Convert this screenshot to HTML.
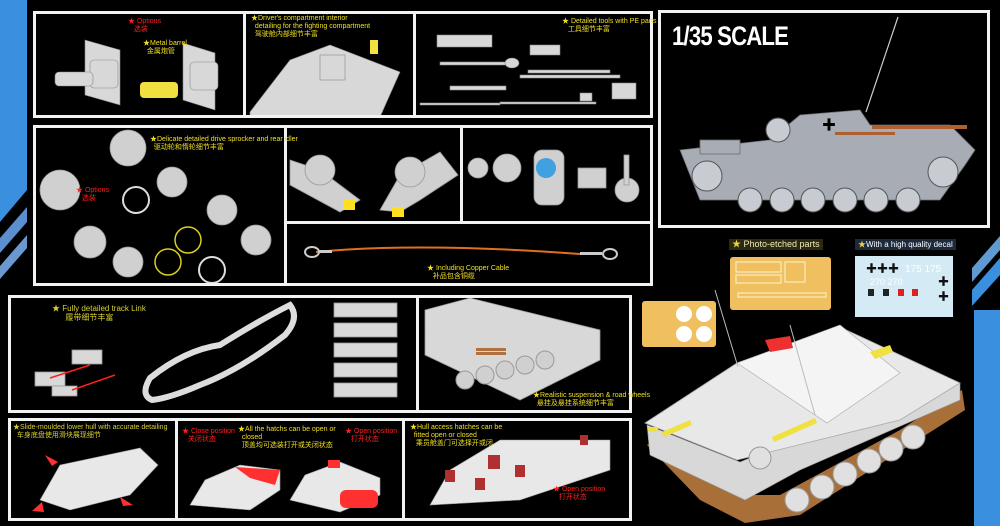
<!DOCTYPE html>
<html><head><meta charset="utf-8"><style>
body{margin:0;width:1000px;height:526px;background:#000;overflow:hidden;position:relative;font-family:"Liberation Sans","Noto Sans CJK SC",sans-serif}
.p{position:absolute;border:3px solid #f2f2f2;box-sizing:border-box}
.t{position:absolute;font-size:7px;line-height:8px;color:#f0e020;white-space:nowrap}
.r{color:#ff2020}
svg{position:absolute;left:0;top:0}
</style></head><body>
<svg width="1000" height="526">
<!-- blue side bars -->
<polygon points="0,0 27,0 27,190 0,222" fill="#3a8fde"/>
<polygon points="0,238 27,207 27,222 0,253" fill="#5b8fd0"/>
<polygon points="0,266 27,235 27,248 0,279" fill="#6a98d0"/>
<rect x="974" y="310" width="26" height="216" fill="#3a8fde"/>
<polygon points="972,290 1000,258 1000,275 972,306" fill="#3a8fde"/>
<polygon points="972,268 1000,236 1000,250 972,282" fill="#5f9ad0"/>
<!-- Row1 content -->
<g fill="#d8d8d8" stroke="#888" stroke-width=".6">
<polygon points="85,40 120,50 120,105 85,95"/><polygon points="183,43 215,53 215,110 183,100"/>
<rect x="90" y="60" width="28" height="28" rx="4"/><rect x="190" y="62" width="28" height="28" rx="4"/>
<rect x="55" y="72" width="38" height="14" rx="4"/>
<polygon points="250,112 290,60 330,45 400,72 380,117 250,117"/>
<rect x="320" y="55" width="25" height="25"/>
<rect x="437" y="35" width="55" height="12"/><rect x="530" y="45" width="30" height="10"/>
<rect x="440" y="62" width="78" height="3"/><ellipse cx="512" cy="63" rx="7" ry="5"/>
<rect x="520" y="75" width="100" height="3"/><rect x="528" y="70" width="82" height="3"/>
<rect x="450" y="86" width="56" height="4"/><rect x="420" y="103" width="80" height="2"/><rect x="500" y="102" width="96" height="2"/>
<rect x="612" y="83" width="24" height="16"/><rect x="580" y="93" width="12" height="8"/>
</g>
<g fill="#f0e040"><rect x="140" y="82" width="38" height="16" rx="4"/><rect x="370" y="40" width="8" height="14"/></g>
<!-- Row2 content -->
<g fill="#d0d0d0" stroke="#999" stroke-width=".8">
<circle cx="128" cy="148" r="18"/><circle cx="60" cy="190" r="20"/><circle cx="172" cy="182" r="15"/><circle cx="90" cy="242" r="16"/>
<circle cx="128" cy="262" r="15"/><circle cx="222" cy="210" r="15"/><circle cx="136" cy="200" r="13" fill="none" stroke="#ddd" stroke-width="2"/>
<circle cx="212" cy="270" r="13" fill="none" stroke="#ddd" stroke-width="2"/><circle cx="256" cy="240" r="15"/>
<polygon points="290,160 320,170 360,200 340,212 290,185"/><polygon points="380,210 400,175 440,152 458,175 420,200 400,212"/>
<circle cx="320" cy="170" r="15"/><circle cx="410" cy="172" r="15"/>
<circle cx="478" cy="168" r="10"/><circle cx="507" cy="168" r="14"/><rect x="534" y="150" width="30" height="55" rx="8"/>
<rect x="578" y="168" width="28" height="20"/><circle cx="627" cy="190" r="12"/><rect x="624" y="155" width="5" height="30"/>
</g>
<circle cx="546" cy="168" r="10" fill="#40a0e0"/>
<circle cx="168" cy="262" r="13" fill="none" stroke="#d8d020" stroke-width="1.5"/>
<circle cx="188" cy="240" r="13" fill="none" stroke="#d8d020" stroke-width="1.5"/>
<rect x="343" y="200" width="12" height="10" fill="#ffe020"/><rect x="392" y="207" width="12" height="10" fill="#ffe020"/>
<path d="M316,252 Q420,242 580,254" stroke="#e07020" stroke-width="2" fill="none"/>
<ellipse cx="312" cy="252" rx="7" ry="5" fill="none" stroke="#ccc" stroke-width="2"/><ellipse cx="610" cy="254" rx="7" ry="5" fill="none" stroke="#ccc" stroke-width="2"/>
<rect x="318" y="250" width="14" height="3" fill="#ccc"/><rect x="580" y="252" width="22" height="3" fill="#ccc"/>
<!-- Row3 content -->
<path d="M150,378 Q185,350 220,345 Q260,320 290,305 Q300,318 285,335 Q240,370 200,385 Q170,398 152,400 Q140,395 150,378Z" fill="none" stroke="#ddd" stroke-width="6"/>
<g fill="#d8d8d8" stroke="#999" stroke-width=".8">
<rect x="72" y="350" width="30" height="14"/><rect x="35" y="372" width="30" height="14"/><rect x="52" y="386" width="25" height="10"/>
<rect x="334" y="303" width="63" height="14"/><rect x="334" y="323" width="63" height="14"/><rect x="334" y="343" width="63" height="14"/><rect x="334" y="363" width="63" height="14"/><rect x="334" y="383" width="63" height="14"/>
<polygon points="425,310 470,298 600,330 600,360 520,400 425,355"/>
</g>
<g fill="#d0d0d0" stroke="#999">
<circle cx="465" cy="380" r="9"/><circle cx="485" cy="375" r="9"/><circle cx="505" cy="370" r="9"/><circle cx="525" cy="365" r="9"/><circle cx="545" cy="360" r="9"/></g>
<g stroke="#ff2020" stroke-width="1.5"><line x1="90" y1="365" x2="50" y2="378"/><line x1="115" y1="375" x2="72" y2="390"/></g>
<rect x="476" y="348" width="30" height="3" fill="#b07040"/><rect x="476" y="352" width="30" height="3" fill="#b07040"/>
<!-- Row4 content -->
<g fill="#e8e8e8" stroke="#999" stroke-width=".6">
<polygon points="40,500 60,465 140,448 158,465 130,495 70,510"/>
<polygon points="190,505 205,480 240,465 280,470 280,490 250,510"/><polygon points="290,500 305,475 340,462 380,478 380,495 340,512"/>
<polygon points="430,505 450,470 500,440 610,440 610,470 520,500"/>
</g>
<g fill="#ff3030"><polygon points="235,467 280,470 275,485 250,478"/><rect x="340" y="490" width="38" height="18" rx="6"/><rect x="328" y="460" width="12" height="8"/>
<polygon points="45,455 58,462 52,466"/><polygon points="120,497 133,505 123,506"/><polygon points="32,511 42,502 44,512"/></g>
<g fill="#b03030"><rect x="445" y="470" width="10" height="12"/><rect x="475" y="478" width="10" height="12"/><rect x="488" y="455" width="12" height="14"/><rect x="515" y="465" width="10" height="12"/><rect x="580" y="435" width="8" height="10"/></g>
<!-- Top right tank side view -->
<g fill="#a8acb4" stroke="#6c6e74" stroke-width=".8">
<polygon points="680,150 770,140 800,115 860,110 870,125 950,125 975,150 965,165 940,200 700,200"/>
<rect x="700" y="140" width="40" height="14"/>
</g>
<g fill="#c8ccd2" stroke="#555" stroke-width="1">
<circle cx="750" cy="200" r="12"/><circle cx="782" cy="200" r="12"/><circle cx="813" cy="200" r="12"/><circle cx="845" cy="200" r="12"/><circle cx="876" cy="200" r="12"/><circle cx="908" cy="200" r="12"/>
<circle cx="707" cy="176" r="15"/><circle cx="943" cy="172" r="15"/><circle cx="778" cy="130" r="12"/>
</g>
<rect x="872" y="125" width="95" height="4" fill="#b06030"/><rect x="835" y="132" width="60" height="3" fill="#b06030"/>
<line x1="866" y1="112" x2="898" y2="17" stroke="#ccc" stroke-width="1.2"/>
<text x="822" y="130" fill="#000" font-size="14" font-weight="bold">✚</text>
<!-- PE and decals -->
<rect x="730" y="257" width="101" height="53" rx="3" fill="#f0c060"/>
<g stroke="#fff4d0" stroke-width="1" fill="none"><rect x="736" y="262" width="45" height="10"/><rect x="736" y="275" width="45" height="8"/><rect x="785" y="262" width="20" height="20"/><rect x="738" y="293" width="88" height="4"/></g>
<rect x="642" y="301" width="74" height="46" rx="3" fill="#f0c060"/>
<g fill="#fff"><circle cx="684" cy="314" r="8"/><circle cx="704" cy="314" r="8"/><circle cx="684" cy="334" r="8"/><circle cx="704" cy="334" r="8"/></g>
<rect x="855" y="256" width="98" height="61" fill="#d4eaf4"/>
<g font-size="11" font-weight="bold" fill="#111"><text x="866" y="272">✚✚✚</text><text x="938" y="285">✚</text><text x="938" y="300">✚</text></g>
<g fill="#e02020"><rect x="898" y="289" width="6" height="7"/><rect x="912" y="289" width="6" height="7"/></g>
<g fill="#222"><rect x="868" y="289" width="6" height="7"/><rect x="883" y="289" width="6" height="7"/></g>
<text x="905" y="272" fill="#fff" font-size="10">175 175</text><text x="870" y="285" fill="#fff" font-size="9">270 270</text>
<!-- Big tank -->
<polygon points="647,445 700,500 745,523 800,515 965,410 962,390 900,430 780,495 740,495 655,440" fill="#a87038"/>
<polygon points="647,425 740,462 830,425 960,383 960,400 800,470 745,500 650,455" fill="#d8d8d8" stroke="#999" stroke-width=".6"/>
<polygon points="645,423 737,363 840,327 960,383 900,420 737,460" fill="#e8e8e8" stroke="#aaa" stroke-width=".8"/>
<polygon points="737,363 840,325 900,373 827,423" fill="#f4f4f4" stroke="#aaa" stroke-width=".6"/>
<polygon points="765,340 790,336 793,348 770,352" fill="#ee3030"/>
<polygon points="870,352 890,345 893,352 875,359" fill="#f0e040"/>
<g fill="#e0e0e0" stroke="#999"><circle cx="797" cy="500" r="12"/><circle cx="822" cy="487" r="12"/><circle cx="845" cy="474" r="12"/><circle cx="869" cy="461" r="12"/><circle cx="891" cy="449" r="12"/><circle cx="913" cy="437" r="12"/><circle cx="760" cy="458" r="11"/></g>
<line x1="715" y1="290" x2="738" y2="367" stroke="#bbb"/><line x1="790" y1="325" x2="815" y2="415" stroke="#bbb"/>
<g fill="#f0e040"><polygon points="662,432 690,420 692,425 664,437"/><polygon points="772,437 815,418 817,423 774,442"/><rect x="648" y="427" width="10" height="5"/></g>
</svg>
<div class="p" style="left:33px;top:11px;width:620px;height:107px"></div>
<div class="p" style="left:243px;top:11px;width:3px;height:107px;border-width:0 0 0 3px"></div>
<div class="p" style="left:413px;top:11px;width:3px;height:107px;border-width:0 0 0 3px"></div>
<div class="p" style="left:658px;top:10px;width:332px;height:218px"></div>
<div class="p" style="left:33px;top:125px;width:620px;height:161px"></div>
<div class="p" style="left:284px;top:125px;width:3px;height:161px;border-width:0 0 0 3px"></div>
<div class="p" style="left:460px;top:125px;width:3px;height:98px;border-width:0 0 0 3px"></div>
<div class="p" style="left:284px;top:221px;width:369px;height:3px;border-width:3px 0 0 0"></div>
<div class="p" style="left:8px;top:295px;width:624px;height:118px"></div>
<div class="p" style="left:416px;top:295px;width:3px;height:118px;border-width:0 0 0 3px"></div>
<div class="p" style="left:8px;top:418px;width:624px;height:103px"></div>
<div class="p" style="left:175px;top:418px;width:3px;height:103px;border-width:0 0 0 3px"></div>
<div class="p" style="left:402px;top:418px;width:3px;height:103px;border-width:0 0 0 3px"></div>

<div class="t r" style="left:128px;top:18px">★ Options<br>&nbsp;&nbsp;&nbsp;选装</div>
<div class="t" style="left:143px;top:40px">★Metal barrel<br>&nbsp;&nbsp;金属炮管</div>
<div class="t" style="left:251px;top:15px">★Driver's compartment interior<br>&nbsp;&nbsp;detailing for the fighting compartment<br>&nbsp;&nbsp;驾驶舱内部细节丰富</div>
<div class="t" style="left:562px;top:18px">★ Detailed tools with PE parts<br>&nbsp;&nbsp;&nbsp;工具细节丰富</div>
<div class="t" style="left:150px;top:136px">★Delicate detailed drive sprocker and rear idler<br>&nbsp;&nbsp;驱动轮和惰轮细节丰富</div>
<div class="t r" style="left:76px;top:187px">★ Options<br>&nbsp;&nbsp;&nbsp;选装</div>
<div class="t" style="left:427px;top:265px">★ Including Copper Cable<br>&nbsp;&nbsp;&nbsp;补品包含铜缆</div>
<div class="t" style="left:52px;top:304px;font-size:8px;line-height:9px;color:#d8d030">★ Fully detailed track Link<br>&nbsp;&nbsp;&nbsp;&nbsp;&nbsp;&nbsp;履带细节丰富</div>
<div class="t" style="left:533px;top:392px">★Realistic suspension &amp; road wheels<br>&nbsp;&nbsp;悬挂及悬挂系统细节丰富</div>
<div class="t" style="left:13px;top:424px;color:#d8d030">★Slide-moulded lower hull with accurate detailing<br>&nbsp;&nbsp;车身底盘使用滑块展现细节</div>
<div class="t r" style="left:182px;top:428px">★ Close position<br>&nbsp;&nbsp;&nbsp;关闭状态</div>
<div class="t" style="left:238px;top:426px">★All the hatchs can be open or<br>&nbsp;&nbsp;closed<br>&nbsp;&nbsp;顶盖均可选装打开或关闭状态</div>
<div class="t r" style="left:345px;top:428px">★ Open position<br>&nbsp;&nbsp;&nbsp;打开状态</div>
<div class="t" style="left:410px;top:424px">★Hull access hatches can be<br>&nbsp;&nbsp;fitted open or closed<br>&nbsp;&nbsp;&nbsp;乘员舱盖门可选择开或闭</div>
<div class="t r" style="left:553px;top:486px">★ Open position<br>&nbsp;&nbsp;&nbsp;打开状态</div>
<div style="position:absolute;left:672px;top:21px;color:#fff;font-size:27px;font-weight:bold;font-family:'Liberation Sans Narrow','Liberation Sans',sans-serif;transform:scaleX(.82);transform-origin:left;letter-spacing:-1px">1/35 SCALE</div>
<div style="position:absolute;left:729px;top:239px;background:#2a2a10;color:#f0e8c0;font-size:9px;padding:0 3px;line-height:11px"><span style="color:#f0d040">★</span> Photo-etched parts</div>
<div style="position:absolute;left:855px;top:239px;background:#1c2a3c;color:#fff;font-size:8px;padding:0 3px;line-height:11px"><span style="color:#f0d040">★</span>With a high quality decal</div>
</body></html>
